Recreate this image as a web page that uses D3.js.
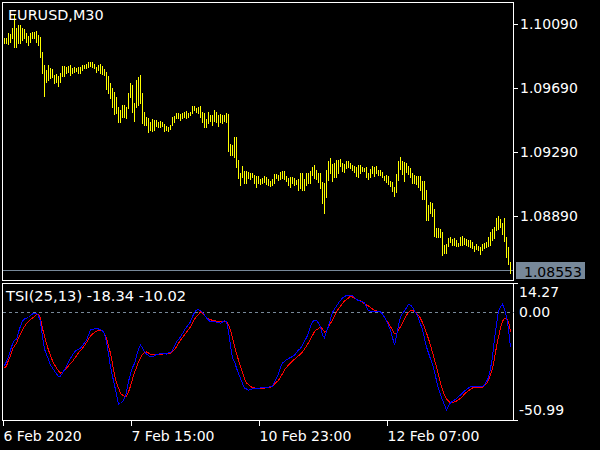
<!DOCTYPE html>
<html><head><meta charset="utf-8">
<script src="https://cdn.jsdelivr.net/npm/d3@7/dist/d3.min.js"></script>
<style>
html,body{margin:0;padding:0;background:#000;}
svg{display:block;}
text{font-family:"DejaVu Sans",sans-serif;font-size:14px;fill:#fff;}
</style>
</head><body>
<svg id="chart" width="600" height="450"></svg>
<script>
// ---------- data ----------
const symbol = "EURUSD,M30";
const tsiName = "TSI";
const tsiParams = [25, 13];
const lastClose = 1.08553;
const priceTicks = [1.10090, 1.09690, 1.09290, 1.08890];
const tsiTickValues = [14.27, 0, -50.99];
const timeTickIdx = [-1, 63, 127, 191];
const timeTickLabels = ["6 Feb 2020", "7 Feb 15:00", "10 Feb 23:00", "12 Feb 07:00"];

const high = [
1.10004,1.10004,1.10032,1.10026,1.10063,1.10146,1.10063,1.10084,1.10084,1.10063,
1.10057,1.10032,1.10015,1.10036,1.10042,1.10042,1.10048,1.10021,1.10011,1.09917,
1.09834,1.09802,1.09834,1.09813,1.09807,1.09771,1.09777,1.09765,1.09782,1.09827,
1.09827,1.09823,1.09829,1.09834,1.09813,1.09823,1.09817,1.09823,1.09823,1.09834,
1.09834,1.09840,1.09851,1.09854,1.09854,1.09840,1.09823,1.09834,1.09840,1.09827,
1.09807,1.09792,1.09765,1.09719,1.09688,1.09667,1.09636,1.09573,1.09552,1.09584,
1.09584,1.09573,1.09657,1.09719,1.09709,1.09594,1.09740,1.09761,1.09771,1.09661,
1.09542,1.09511,1.09501,1.09479,1.09494,1.09490,1.09490,1.09479,1.09486,1.09479,
1.09465,1.09452,1.09448,1.09459,1.09511,1.09515,1.09532,1.09536,1.09527,1.09532,
1.09542,1.09548,1.09536,1.09542,1.09577,1.09577,1.09563,1.09569,1.09577,1.09542,
1.09536,1.09494,1.09542,1.09521,1.09521,1.09552,1.09542,1.09521,1.09527,1.09521,
1.09521,1.09536,1.09527,1.09340,1.09334,1.09386,1.09386,1.09240,1.09157,1.09202,
1.09173,1.09173,1.09167,1.09161,1.09157,1.09146,1.09140,1.09140,1.09119,1.09126,
1.09140,1.09132,1.09119,1.09111,1.09119,1.09152,1.09152,1.09146,1.09167,1.09173,
1.09173,1.09140,1.09126,1.09132,1.09136,1.09126,1.09115,1.09119,1.09157,1.09161,
1.09119,1.09157,1.09161,1.09173,1.09194,1.09209,1.09177,1.09157,1.09161,1.09104,
1.09098,1.09177,1.09236,1.09251,1.09215,1.09223,1.09240,1.09240,1.09244,1.09223,
1.09215,1.09236,1.09236,1.09223,1.09209,1.09202,1.09194,1.09209,1.09209,1.09198,
1.09188,1.09198,1.09157,1.09182,1.09202,1.09194,1.09202,1.09177,1.09177,1.09167,
1.09140,1.09146,1.09140,1.09111,1.09104,1.09073,1.09152,1.09236,1.09257,1.09236,
1.09229,1.09223,1.09202,1.09188,1.09157,1.09146,1.09140,1.09140,1.09140,1.09111,
1.09111,1.09052,1.08959,1.08979,1.08969,1.08932,1.08813,1.08813,1.08807,1.08792,
1.08709,1.08715,1.08751,1.08761,1.08744,1.08751,1.08740,1.08723,1.08757,1.08765,
1.08751,1.08744,1.08740,1.08740,1.08729,1.08702,1.08715,1.08702,1.08698,1.08715,
1.08723,1.08729,1.08757,1.08792,1.08807,1.08819,1.08876,1.08890,1.08869,1.08844,
1.08876,1.08761,1.08694,1.08604
];
const low = [
1.09969,1.09969,1.09963,1.09979,1.10001,1.09948,1.09948,1.09969,1.09969,1.09990,
1.10001,1.09979,1.09959,1.09979,1.10001,1.10001,1.09979,1.09959,1.09886,1.09782,
1.09640,1.09729,1.09740,1.09751,1.09761,1.09719,1.09729,1.09702,1.09729,1.09765,
1.09765,1.09786,1.09792,1.09771,1.09786,1.09792,1.09798,1.09782,1.09782,1.09802,
1.09813,1.09813,1.09823,1.09827,1.09823,1.09813,1.09792,1.09802,1.09786,1.09777,
1.09771,1.09682,1.09661,1.09626,1.09569,1.09527,1.09532,1.09479,1.09479,1.09511,
1.09511,1.09501,1.09563,1.09636,1.09542,1.09486,1.09573,1.09584,1.09594,1.09473,
1.09459,1.09459,1.09417,1.09427,1.09423,1.09427,1.09452,1.09444,1.09448,1.09452,
1.09423,1.09427,1.09423,1.09432,1.09459,1.09479,1.09501,1.09501,1.09490,1.09501,
1.09511,1.09501,1.09511,1.09521,1.09532,1.09552,1.09542,1.09532,1.09511,1.09479,
1.09448,1.09448,1.09469,1.09486,1.09459,1.09486,1.09479,1.09452,1.09479,1.09473,
1.09486,1.09479,1.09298,1.09271,1.09271,1.09261,1.09194,1.09126,1.09084,1.09136,
1.09098,1.09094,1.09126,1.09119,1.09132,1.09094,1.09073,1.09098,1.09090,1.09094,
1.09104,1.09090,1.09084,1.09077,1.09084,1.09098,1.09126,1.09115,1.09119,1.09126,
1.09119,1.09111,1.09084,1.09073,1.09094,1.09084,1.09090,1.09052,1.09065,1.09052,
1.09052,1.09084,1.09094,1.09094,1.09146,1.09126,1.09119,1.09104,1.09063,1.08969,
1.08911,1.09011,1.09115,1.09157,1.09111,1.09132,1.09132,1.09161,1.09202,1.09173,
1.09167,1.09188,1.09194,1.09188,1.09177,1.09167,1.09140,1.09136,1.09157,1.09173,
1.09173,1.09136,1.09119,1.09132,1.09157,1.09140,1.09157,1.09146,1.09146,1.09136,
1.09115,1.09104,1.09090,1.09077,1.09048,1.09015,1.09042,1.09115,1.09184,1.09152,
1.09111,1.09167,1.09152,1.09132,1.09094,1.09098,1.09090,1.09073,1.09052,1.08994,
1.08994,1.08865,1.08865,1.08907,1.08890,1.08765,1.08761,1.08757,1.08757,1.08646,
1.08657,1.08661,1.08702,1.08729,1.08709,1.08709,1.08702,1.08702,1.08709,1.08709,
1.08715,1.08709,1.08702,1.08694,1.08688,1.08673,1.08682,1.08677,1.08652,1.08677,
1.08688,1.08694,1.08702,1.08709,1.08740,1.08751,1.08802,1.08807,1.08819,1.08777,
1.08736,1.08636,1.08590,1.08532
];
const tsi = [
-27.8,-25.7,-23.3,-19.7,-16.6,-14.5,-14.2,-10.3,-7.2,-4.5,
-3.5,-3.0,-2.7,-1.7,-0.9,-0.4,-0.4,-1.9,-4.9,-12.9,
-19.2,-22.0,-24.6,-27.5,-29.1,-30.6,-32.2,-33.5,-33.3,-31.7,
-29.9,-28.0,-25.9,-24.0,-22.3,-20.7,-19.8,-19.3,-18.8,-17.3,
-16.0,-14.5,-11.9,-9.2,-9.0,-8.5,-8.5,-8.7,-8.9,-9.8,
-11.0,-15.5,-21.5,-28.4,-33.3,-38.0,-42.7,-47.9,-47.6,-46.6,
-45.0,-41.6,-36.1,-32.2,-28.8,-26.7,-22.8,-19.2,-17.1,-18.6,
-20.5,-21.8,-22.6,-23.1,-23.1,-22.6,-22.0,-21.8,-21.4,-21.5,
-21.7,-21.8,-21.2,-21.0,-19.7,-17.6,-15.4,-14.2,-12.7,-11.1,
-9.2,-7.7,-6.4,-4.9,-2.2,-0.1,1.2,1.5,0.8,0.1,
-1.4,-3.0,-4.0,-4.9,-4.9,-4.9,-5.1,-5.4,-5.7,-5.1,
-4.3,-5.1,-9.8,-17.1,-24.1,-25.8,-29.1,-32.0,-34.5,-37.2,
-39.7,-40.0,-40.6,-40.3,-39.9,-39.7,-39.7,-39.7,-39.5,-39.4,
-39.3,-39.2,-39.0,-38.9,-38.5,-36.4,-34.3,-32.0,-28.6,-26.5,
-25.7,-24.8,-24.1,-23.6,-23.1,-22.3,-21.0,-19.7,-18.8,-17.1,
-15.0,-13.2,-10.8,-7.2,-4.8,-4.3,-4.1,-5.6,-7.5,-11.9,
-13.4,-10.0,-7.2,-3.5,-0.1,1.7,3.3,4.9,6.2,7.5,
8.2,8.9,9.0,9.0,8.8,7.7,6.7,6.2,5.9,5.6,
4.9,2.8,0.8,0.6,0.3,0.3,0.3,0.3,0.3,-0.9,
-2.5,-4.3,-6.9,-9.2,-13.2,-17.1,-12.4,-6.6,-2.3,-0.6,
0.7,2.5,4.1,3.8,2.6,0.7,-0.9,-3.2,-6.1,-9.0,
-13.7,-18.1,-21.2,-24.4,-27.0,-31.2,-35.6,-39.8,-42.9,-45.8,
-48.4,-50.99,-48.9,-47.2,-46.5,-45.8,-45.0,-44.0,-43.2,-42.1,
-41.1,-40.3,-39.5,-38.8,-38.8,-38.8,-38.8,-38.7,-38.6,-38.6,
-38.0,-36.1,-34.0,-29.3,-23.3,-13.9,-6.1,0.7,2.8,4.2,
1.7,-2.5,-8.7,-18.34
];
const signal = [
-29.1,-28.0,-24.9,-22.8,-19.2,-17.6,-16.0,-13.4,-11.3,-9.0,
-7.4,-5.8,-4.8,-3.8,-3.0,-2.2,-1.3,-1.2,-3.0,-8.5,
-12.4,-16.3,-19.7,-22.6,-25.2,-27.3,-29.1,-30.6,-31.8,-31.4,
-30.4,-29.2,-28.0,-26.6,-25.7,-24.1,-22.8,-21.0,-19.9,-18.8,
-17.3,-15.8,-13.9,-12.4,-11.3,-10.5,-9.8,-9.5,-9.3,-9.5,
-11.1,-13.7,-17.6,-21.4,-27.0,-32.5,-36.9,-39.5,-42.3,-43.2,
-44.0,-43.7,-41.6,-38.5,-34.8,-31.4,-28.8,-25.9,-23.9,-22.0,
-21.0,-20.7,-21.2,-22.0,-22.2,-22.0,-21.8,-21.8,-21.8,-21.8,
-21.7,-21.6,-21.5,-21.4,-20.4,-19.4,-18.0,-16.2,-14.5,-13.1,
-11.7,-10.3,-8.9,-7.5,-5.6,-3.6,-2.2,-1.1,0.2,-0.7,
-1.7,-2.8,-3.4,-3.8,-4.2,-4.4,-4.6,-4.8,-4.9,-4.9,
-4.9,-4.9,-6.6,-9.2,-13.4,-17.6,-21.5,-24.9,-28.4,-31.5,
-34.7,-36.8,-37.8,-38.8,-39.2,-39.5,-39.7,-39.7,-39.7,-39.7,
-39.6,-39.4,-39.2,-39.0,-38.6,-37.4,-36.4,-35.5,-33.8,-32.0,
-30.1,-28.7,-27.5,-26.5,-25.4,-24.5,-23.6,-22.7,-21.8,-20.6,
-19.2,-17.6,-15.9,-13.9,-12.1,-10.0,-9.0,-8.5,-7.5,-8.7,
-10.3,-9.8,-7.7,-5.7,-4.3,-1.9,0.4,1.9,3.3,4.6,
5.9,6.7,7.5,8.5,8.0,7.5,6.9,6.4,5.9,5.2,
4.5,3.8,3.3,2.5,1.7,1.0,0.7,0.5,0.3,-1.1,
-2.7,-4.2,-5.6,-7.4,-9.2,-11.1,-11.1,-9.2,-7.5,-5.4,
-3.3,-1.4,-0.1,1.0,0.9,0.5,-0.4,-1.7,-3.1,-5.4,
-7.9,-10.8,-13.9,-17.1,-20.9,-24.7,-28.7,-32.9,-37.1,-40.2,
-43.3,-45.4,-46.3,-47.2,-47.0,-46.8,-46.3,-45.6,-44.9,-43.9,
-42.7,-41.7,-40.8,-40.3,-39.5,-39.2,-39.2,-39.2,-39.2,-39.1,
-38.2,-37.3,-35.3,-32.5,-29.3,-23.9,-18.0,-12.9,-8.2,-4.8,
-3.0,-3.1,-4.9,-10.02
];

// ---------- layout ----------
const W = 600, H = 450;
const main = {l: 2.5, r: 513.5, t: 2.5, b: 280.5};
const sub = {l: 2.5, r: 513.5, t: 283.5, b: 420.5};
const cFrame = "#ffffff", cBar = "#ffff00", cTsi = "#0000ff", cSig = "#ff0000", cGrid = "#778899";

const locale = d3.formatLocale({decimal: ".", thousands: ",", grouping: [3], currency: ["", ""], minus: "-"});
const fmt2 = locale.format(".2f");
const fmt5 = locale.format(".5f");

const svg = d3.select("#chart");
svg.append("rect").attr("width", W).attr("height", H).attr("fill", "#000");

const n = high.length;
const x = d3.scaleLinear().domain([0, n - 1]).range([4.5, 4.5 + 2 * (n - 1)]);
const yP = d3.scaleLinear().domain([1.08890, 1.10090]).range([216, 24]);
const yT = d3.scaleLinear().domain([-50.99, 14.27]).range([410, 285]);

const defs = svg.append("defs");
defs.append("clipPath").attr("id", "clipMain").append("rect")
  .attr("x", main.l).attr("y", main.t).attr("width", main.r - main.l).attr("height", main.b - main.t);
defs.append("clipPath").attr("id", "clipSub").append("rect")
  .attr("x", sub.l).attr("y", sub.t).attr("width", sub.r - sub.l).attr("height", sub.b - sub.t);

// close price line
const yClose = Math.round(yP(lastClose)) + 0.5;
svg.append("line").attr("x1", main.l).attr("x2", main.r).attr("y1", yClose).attr("y2", yClose)
  .attr("stroke", cGrid).attr("stroke-width", 1).attr("shape-rendering", "crispEdges");

// price bars
const gMain = svg.append("g").attr("clip-path", "url(#clipMain)");
gMain.selectAll("line.bar").data(d3.range(n)).join("line").attr("class", "bar")
  .attr("x1", i => x(i)).attr("x2", i => x(i))
  .attr("y1", i => yP(high[i])).attr("y2", i => yP(low[i]) + 1)
  .attr("stroke", cBar).attr("stroke-width", 1).attr("shape-rendering", "crispEdges");

// frames
svg.append("rect").attr("x", main.l).attr("y", main.t).attr("width", main.r - main.l).attr("height", main.b - main.t)
  .attr("fill", "none").attr("stroke", cFrame).attr("shape-rendering", "crispEdges");
svg.append("rect").attr("x", sub.l).attr("y", sub.t).attr("width", sub.r - sub.l).attr("height", sub.b - sub.t)
  .attr("fill", "none").attr("stroke", cFrame).attr("shape-rendering", "crispEdges");

// price axis
const axP = svg.append("g").attr("transform", `translate(${main.r},0)`)
  .call(d3.axisRight(yP).tickValues(priceTicks).tickSize(4).tickPadding(2.5).tickFormat(fmt5));
axP.select(".domain").remove();
axP.selectAll("line").attr("stroke", cFrame).attr("shape-rendering", "crispEdges");
axP.selectAll("text").attr("fill", "#fff").style("font-family", "DejaVu Sans").style("font-size", "14px");

// last price box
svg.append("rect").attr("x", 516).attr("y", yClose - 8.5).attr("width", 69).attr("height", 17).attr("fill", cGrid);
svg.append("text").attr("x", 524).attr("y", yClose + 6).style("fill", "#000").text(fmt5(lastClose));

// title
svg.append("text").attr("x", 8).attr("y", 19.5).style("font-size", "14.4px").text(symbol);

// indicator
svg.append("line").attr("x1", sub.l).attr("x2", sub.r).attr("y1", Math.round(yT(0)) + 0.5).attr("y2", Math.round(yT(0)) + 0.5)
  .attr("stroke", cGrid).attr("stroke-dasharray", "3,3").attr("shape-rendering", "crispEdges");
const gSub = svg.append("g").attr("clip-path", "url(#clipSub)");
const line = arr => d3.line().x((d, i) => x(i)).y(d => yT(d))(arr);
gSub.append("path").attr("d", line(signal)).attr("fill", "none").attr("stroke", cSig).attr("stroke-width", 1)
  .attr("shape-rendering", "crispEdges");
gSub.append("path").attr("d", line(tsi)).attr("fill", "none").attr("stroke", cTsi).attr("stroke-width", 1)
  .attr("shape-rendering", "crispEdges");

svg.append("text").attr("x", 6).attr("y", 301).style("font-size", "14.7px")
  .text(`${tsiName}(${tsiParams.join(",")}) ${fmt2(tsi[n - 1])} ${fmt2(signal[n - 1])}`);

// indicator axis (labels kept inside the sub-window like the terminal does)
const axT = svg.append("g").attr("transform", `translate(${sub.r},0)`)
  .call(d3.axisRight(yT).tickValues(tsiTickValues).tickSize(0).tickPadding(5.5).tickFormat(fmt2));
axT.select(".domain").remove();
axT.selectAll(".tick text").attr("fill", "#fff")
  .attr("y", d => Math.min(Math.max(yT(d), 292), 412) - yT(d))
  .style("font-family", "DejaVu Sans").style("font-size", "14px");
[sub.t, sub.b].forEach(yy => svg.append("line").attr("x1", sub.r).attr("x2", sub.r + 4).attr("y1", yy).attr("y2", yy)
  .attr("stroke", cFrame).attr("shape-rendering", "crispEdges"));

// time axis
const axX = svg.append("g").attr("transform", `translate(0,${sub.b})`)
  .call(d3.axisBottom(x).tickValues(timeTickIdx).tickSize(5).tickFormat((d, i) => timeTickLabels[i]));
axX.select(".domain").remove();
axX.selectAll("line").attr("stroke", cFrame).attr("shape-rendering", "crispEdges");
axX.selectAll("text").attr("fill", "#fff").attr("text-anchor", "start").attr("x", 0.5).attr("dy", null).attr("y", 20.5)
  .style("font-family", "DejaVu Sans").style("font-size", "14px");
</script>
</body></html>
